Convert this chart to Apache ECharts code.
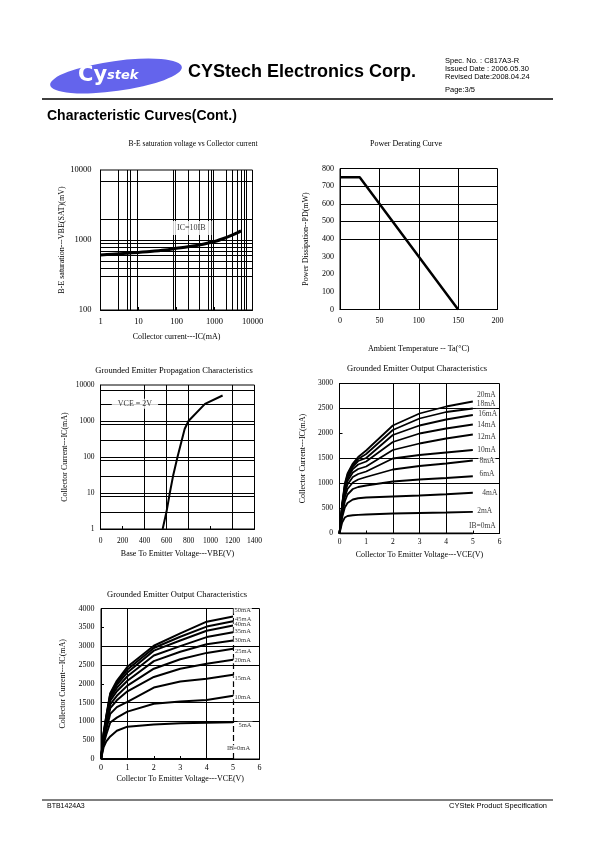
<!DOCTYPE html>
<html><head><meta charset="utf-8">
<script src="https://cdn.jsdelivr.net/npm/echarts@6/dist/echarts.min.js"></script>
<style>html,body{margin:0;padding:0;background:#fff}#c{width:595px;height:842px}</style>
</head><body><div id="c"></div>
<script>
// ---------- Chart 1: B-E saturation voltage vs collector current ----------
const c1Ic = [1, 2, 5, 10, 20, 50, 100, 200, 500, 1000, 2000, 3000, 4000, 5000];
const c1Vbe = [610, 625, 645, 665, 685, 720, 760, 800, 870, 950, 1080, 1180, 1270, 1350];
const c1GridX = [3, 5, 6, 9, 80, 90, 200, 400, 700, 800, 900, 2000, 3000, 4000, 5000, 6000, 7000];
const c1GridY = [300, 400, 500, 600, 700, 800, 900, 1000, 2000, 7000];
const c1Note = [[245, 1480, 'IC=10IB']];

// ---------- Chart 2: Power derating ----------
const c2Temp = [0, 25, 150];
const c2Pd = [750, 750, 0];
const c2GridX = [50, 100, 150];
const c2GridY = [400, 500, 600, 700];

// ---------- Chart 3: Propagation characteristics ----------
const c3Vbe = [565, 600, 630, 660, 700, 740, 765, 800, 950, 1110];
const c3Ic = [1, 3, 10, 30, 100, 300, 600, 1000, 3000, 5100];
const c3GridX = [400, 600, 800, 1200];
const c3GridY = [3, 8, 10, 30, 80, 100, 300, 800, 1000, 3000, 7000];
const c3Note = [[313, 3000, 'VCE = 2V']];

// ---------- Chart 4: Output characteristics (IB 0..20 mA) ----------
const c4Vce = [0, 0.1, 0.2, 0.3, 0.5, 0.7, 1, 2, 3, 4, 5];
const c4Names = ['20mA', '18mA', '16mA', '14mA', '12mA', '10mA', '8mA', '6mA', '4mA', '2mA', 'IB=0mA'];
const c4Ic20 = [0, 600, 1000, 1200, 1400, 1530, 1660, 2160, 2400, 2540, 2640];
const c4Ic18 = [0, 580, 970, 1170, 1370, 1490, 1590, 2070, 2300, 2430, 2500];
const c4Ic16 = [0, 560, 940, 1140, 1340, 1450, 1510, 1970, 2160, 2280, 2370];
const c4Ic14 = [0, 540, 900, 1100, 1290, 1380, 1440, 1830, 2000, 2100, 2180];
const c4Ic12 = [0, 510, 860, 1050, 1220, 1290, 1340, 1670, 1800, 1900, 1980];
const c4Ic10 = [0, 480, 800, 980, 1130, 1190, 1240, 1500, 1570, 1620, 1670];
const c4Ic8 = [0, 440, 730, 890, 1020, 1080, 1130, 1280, 1350, 1400, 1460];
const c4Ic6 = [0, 390, 640, 780, 890, 930, 960, 1040, 1080, 1110, 1145];
const c4Ic4 = [0, 320, 520, 610, 680, 705, 720, 740, 760, 785, 815];
const c4Ic2 = [0, 220, 320, 350, 365, 372, 380, 400, 410, 420, 433];
const c4Ic0 = [0, 0, 0, 0, 0, 0, 0, 0, 0, 0, 0];
const c4LabelX = [5.1, 5.09, 5.15, 5.11, 5.11, 5.11, 5.19, 5.19, 5.3, 5.11, 4.8];
const c4LabelY = [2767, 2587, 2393, 2173, 1933, 1667, 1453, 1187, 800, 447, 147];
const c4GridX = [2, 3, 4];
const c4GridY = [1000, 1500, 2500];

// ---------- Chart 5: Output characteristics (IB 0..50 mA) ----------
const c5Vce = [0, 0.1, 0.2, 0.35, 0.6, 1, 2, 3, 4, 5];
const c5Names = ['50mA', '45mA', '40mA', '35mA', '30mA', '25mA', '20mA', '15mA', '10mA', '5mA', 'IB=0mA'];
const c5Ic50 = [0, 700, 1150, 1750, 2080, 2450, 3010, 3340, 3650, 3790];
const c5Ic45 = [0, 680, 1120, 1720, 2030, 2380, 2950, 3250, 3520, 3660];
const c5Ic40 = [0, 660, 1090, 1680, 1970, 2300, 2880, 3150, 3410, 3550];
const c5Ic35 = [0, 630, 1050, 1620, 1890, 2200, 2750, 3000, 3240, 3370];
const c5Ic30 = [0, 600, 1000, 1550, 1800, 2080, 2600, 2850, 3050, 3150];
const c5Ic25 = [0, 560, 940, 1450, 1680, 1950, 2400, 2650, 2820, 2930];
const c5Ic20 = [0, 520, 870, 1350, 1560, 1800, 2180, 2400, 2530, 2640];
const c5Ic15 = [0, 470, 780, 1200, 1380, 1520, 1900, 2060, 2130, 2240];
const c5Ic10 = [0, 400, 650, 970, 1100, 1260, 1470, 1530, 1570, 1680];
const c5Ic5 = [0, 320, 470, 600, 750, 860, 920, 950, 965, 975];
const c5Ic0 = [0, 0, 0, 0, 0, 0, 0, 0, 0, 0];
const c5LabelX = [5.0, 5.02, 5.0, 5.0, 5.0, 5.02, 5.0, 5.0, 5.0, 5.15, 4.71];
const c5LabelY = [3956, 3717, 3584, 3381, 3159, 2850, 2611, 2142, 1637, 903, 283];
const c5GridX = [1, 4];
const c5DashX = [5];
const c5GridY = [1000, 1500, 2500, 3000];

// ---------- build ----------
const serif = 'Liberation Serif';
const sans = 'Liberation Sans';
const chart = echarts.init(document.getElementById('c'), null, {renderer: 'canvas', width: 595, height: 842});

function gridBox(l, t, r, b) {
  return {left: l, top: t, width: r - l, height: b - t, show: true, borderColor: '#000', borderWidth: 1, backgroundColor: 'transparent'};
}
const fmt = v => String(Math.round(v));
function axis(gi, type, min, max, interval, name, gap, lblMargin, lblSize, ticks, extra) {
  const a = {
    gridIndex: gi, type: type, min: min, max: max,
    axisLine: {show: true, lineStyle: {color: '#000', width: 1}},
    axisTick: {show: ticks, inside: true, length: 3, lineStyle: {color: '#000'}},
    splitLine: {show: false},
    axisLabel: {fontFamily: serif, fontSize: lblSize, color: '#000', margin: lblMargin, formatter: fmt},
    name: name, nameLocation: 'middle', nameGap: gap,
    nameTextStyle: {fontFamily: serif, fontSize: 8, color: '#000'}
  };
  if (type === 'log') a.logBase = 10; else a.interval = interval;
  return Object.assign(a, extra || {});
}
function gridLines(i, xs, ys, dashed) {
  const d = xs.map(v => ({xAxis: v})).concat(ys.map(v => ({yAxis: v})));
  (dashed || []).forEach(v => d.push({xAxis: v, lineStyle: {type: [6, 3], width: 1.2}}));
  return {
    type: 'line', xAxisIndex: i, yAxisIndex: i, data: [], silent: true, z: 1,
    markLine: {silent: true, z: 1, symbol: ['none', 'none'], label: {show: false}, animation: false,
      lineStyle: {color: '#000', width: 1, type: 'solid'}, emphasis: {disabled: true}, data: d}
  };
}
function curve(i, xs, ys, w, smooth) {
  return {type: 'line', xAxisIndex: i, yAxisIndex: i, data: xs.map((x, k) => [x, ys[k]]),
    symbol: 'none', showSymbol: false, smooth: smooth || false, silent: true, z: 3,
    lineStyle: {color: '#000', width: w}};
}
function labels(i, xs, ys, names, size, pos, pad) {
  return {type: 'scatter', xAxisIndex: i, yAxisIndex: i, symbolSize: 1, silent: true, z: 4,
    itemStyle: {color: 'rgba(0,0,0,0)'},
    data: xs.map((x, k) => ({value: [x, ys[k]], name: names[k]})),
    label: {show: true, position: pos, distance: 0, formatter: '{b}', fontFamily: serif, fontSize: size,
      color: '#000', backgroundColor: '#fff', padding: pad}};
}
function noteSeries(i, notes, size, pad) {
  return labels(i, notes.map(n => n[0]), notes.map(n => n[1]), notes.map(n => n[2]), size, 'inside', pad);
}

const titleStyle = {fontFamily: serif, fontSize: 8.5, fontWeight: 'normal', color: '#000'};
function ttl(text, cx, cy, size) {
  const s = size || 8.5;
  return {text: text, left: cx, top: cy - s / 2 + 0.5, textAlign: 'center', padding: 0,
    textStyle: Object.assign({}, titleStyle, {fontSize: s})};
}

const c4Series = [c4Ic20, c4Ic18, c4Ic16, c4Ic14, c4Ic12, c4Ic10, c4Ic8, c4Ic6, c4Ic4, c4Ic2, c4Ic0];
const c5Series = [c5Ic50, c5Ic45, c5Ic40, c5Ic35, c5Ic30, c5Ic25, c5Ic20, c5Ic15, c5Ic10, c5Ic5, c5Ic0];

const series = [
  gridLines(0, c1GridX, c1GridY),
  curve(0, c1Ic, c1Vbe, 3, 0.3),
  noteSeries(0, c1Note, 8, [3, 6]),
  gridLines(1, c2GridX, c2GridY),
  curve(1, c2Temp, c2Pd, 2.5),
  gridLines(2, c3GridX, c3GridY),
  curve(2, c3Vbe, c3Ic, 2),
  noteSeries(2, c3Note, 8, [1, 6]),
  gridLines(3, c4GridX, c4GridY),
  ...c4Series.map(s => curve(3, c4Vce, s, 1.8)),
  labels(3, c4LabelX, c4LabelY, c4Names, 7.5, 'right', [0, 1]),
  gridLines(4, c5GridX, c5GridY, c5DashX),
  ...c5Series.map(s => curve(4, c5Vce, s, 2)),
  labels(4, c5LabelX, c5LabelY, c5Names, 6.5, 'right', [0, 1])
];

const option = {
  animation: false,
  backgroundColor: '#fff',
  title: [
    ttl('B-E saturation voltage vs Collector current', 193, 143, 7.5),
    ttl('Power Derating Curve', 406, 143, 8),
    ttl('Grounded Emitter Propagation Characteristics', 174, 370),
    ttl('Grounded Emitter Output Characteristics', 417, 368.5),
    ttl('Grounded Emitter Output Characteristics', 177, 594.5)
  ],
  grid: [
    gridBox(100.5, 170, 252.5, 310),
    gridBox(340, 168.5, 497.5, 309.5),
    gridBox(100.5, 385, 254.5, 529),
    gridBox(339.5, 383.5, 499.5, 533.5),
    gridBox(101, 608.5, 259.5, 759)
  ],
  xAxis: [
    axis(0, 'log', 1, 10000, null, 'Collector current---IC(mA)', 23, 7, 8.5, true),
    axis(1, 'value', 0, 200, 50, 'Ambient Temperature -- Ta(°C)', 35, 7, 8, false),
    axis(2, 'value', 0, 1400, 200, 'Base To Emitter Voltage---VBE(V)', 21, 8, 7.5, true),
    axis(3, 'value', 0, 6, 1, 'Collector To Emitter Voltage---VCE(V)', 17, 5, 7.5, true),
    axis(4, 'value', 0, 6, 1, 'Collector To Emitter Voltage---VCE(V)', 16, 5, 8, true)
  ],
  yAxis: [
    axis(0, 'log', 100, 10000, null, 'B-E saturation---VBE(SAT)(mV)', 35, 9, 8.5, false),
    axis(1, 'value', 0, 800, 100, 'Power Dissipation--PD(mW)', 30, 6, 8, false),
    axis(2, 'log', 1, 10000, null, 'Collector Current---IC(mA)', 32, 6, 7.5, false),
    axis(3, 'value', 0, 3000, 500, 'Collector Current---IC(mA)', 33, 6.5, 7.5, true),
    axis(4, 'value', 0, 4000, 500, 'Collector Current---IC(mA)', 34, 6.5, 8, true)
  ],
  graphic: [
    {type: 'circle', x: 116, y: 76, shape: {cx: 0, cy: 0, r: 15}, scaleX: 4.43, scaleY: 1, rotation: 0.136,
      style: {fill: '#6464ec'}, silent: true},
    {type: 'text', x: 78, y: 86, silent: true,
      style: {text: '{a|Cy}{b|stek}', textVerticalAlign: 'bottom', rich: {
        a: {fontFamily: 'DejaVu Sans', fontWeight: 'bold', fontSize: 21, fill: '#fff', textStroke: '#3c3cc0', lineWidth: 0.6},
        b: {fontFamily: 'DejaVu Sans', fontWeight: 'bold', fontStyle: 'italic', fontSize: 13, fill: '#fff', textStroke: '#3c3cc0', lineWidth: 0.5}
      }}},
    {type: 'text', x: 188, y: 72, silent: true,
      style: {text: 'CYStech Electronics Corp.', fontFamily: sans, fontWeight: 'bold', fontSize: 18, fill: '#000', textVerticalAlign: 'middle'}},
    {type: 'text', x: 445, y: 61, silent: true,
      style: {text: 'Spec. No. : C817A3-R', fontFamily: sans, fontSize: 7.5, fill: '#000', textVerticalAlign: 'middle'}},
    {type: 'text', x: 445, y: 69, silent: true,
      style: {text: 'Issued Date : 2006.05.30', fontFamily: sans, fontSize: 7.5, fill: '#000', textVerticalAlign: 'middle'}},
    {type: 'text', x: 445, y: 77, silent: true,
      style: {text: 'Revised Date:2008.04.24', fontFamily: sans, fontSize: 7.5, fill: '#000', textVerticalAlign: 'middle'}},
    {type: 'text', x: 445, y: 90, silent: true,
      style: {text: 'Page:3/5', fontFamily: sans, fontSize: 7.5, fill: '#000', textVerticalAlign: 'middle'}},
    {type: 'line', shape: {x1: 42, y1: 99, x2: 553, y2: 99}, style: {stroke: '#000', lineWidth: 1.3}, silent: true},
    {type: 'text', x: 47, y: 116, silent: true,
      style: {text: 'Characteristic Curves(Cont.)', fontFamily: sans, fontWeight: 'bold', fontSize: 14, fill: '#000', textVerticalAlign: 'middle'}},
    {type: 'line', shape: {x1: 42, y1: 800, x2: 553, y2: 800}, style: {stroke: '#000', lineWidth: 1}, silent: true},
    {type: 'text', x: 47, y: 806, silent: true,
      style: {text: 'BTB1424A3', fontFamily: sans, fontSize: 7, fill: '#000', textVerticalAlign: 'middle'}},
    {type: 'text', x: 547, y: 806, silent: true,
      style: {text: 'CYStek Product Specification', fontFamily: sans, fontSize: 7.5, fill: '#000', textAlign: 'right', textVerticalAlign: 'middle'}}
  ],
  series: series
};
chart.setOption(option);
</script>
</body></html>
